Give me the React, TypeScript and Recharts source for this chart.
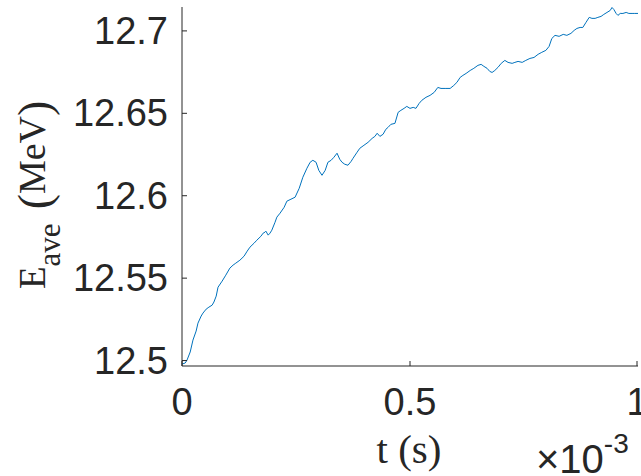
import React from "react";
import { LineChart, Line, XAxis, YAxis } from "recharts";

// time in units of 1e-3 s
const timeValues = [0, 0.007, 0.011, 0.018, 0.024, 0.031, 0.035, 0.042, 0.046, 0.053,
  0.059, 0.066, 0.070, 0.075, 0.079, 0.088, 0.096, 0.105, 0.112, 0.118,
  0.127, 0.136, 0.143, 0.149, 0.158, 0.164, 0.173, 0.178, 0.182, 0.184,
  0.189, 0.193, 0.197, 0.204, 0.208, 0.215, 0.224, 0.230, 0.239, 0.248,
  0.257, 0.265, 0.274, 0.281, 0.287, 0.294, 0.300, 0.307, 0.314, 0.320,
  0.327, 0.333, 0.340, 0.346, 0.351, 0.357, 0.364, 0.371, 0.375, 0.384,
  0.390, 0.399, 0.408, 0.417, 0.423, 0.428, 0.434, 0.441, 0.447, 0.452,
  0.458, 0.467, 0.474, 0.480, 0.487, 0.493, 0.500, 0.507, 0.513, 0.520,
  0.526, 0.535, 0.544, 0.553, 0.561, 0.568, 0.577, 0.588, 0.596, 0.603,
  0.610, 0.616, 0.623, 0.632, 0.640, 0.649, 0.656, 0.662, 0.669, 0.675,
  0.680, 0.686, 0.693, 0.700, 0.708, 0.715, 0.724, 0.730, 0.737, 0.746,
  0.754, 0.763, 0.772, 0.781, 0.789, 0.798, 0.805, 0.811, 0.818, 0.827,
  0.836, 0.844, 0.853, 0.860, 0.866, 0.873, 0.879, 0.886, 0.893, 0.899,
  0.906, 0.912, 0.919, 0.925, 0.932, 0.939, 0.943, 0.947, 0.952, 0.956,
  0.961, 0.967, 0.974, 0.980, 0.987, 0.993, 1.000];

const energyValues = [12.4979, 12.4985, 12.5003, 12.5052, 12.5124, 12.5179, 12.5227, 12.5270, 12.5288, 12.5312,
  12.5324, 12.5336, 12.5355, 12.5391, 12.5445, 12.5482, 12.5518, 12.5561, 12.5579, 12.5591,
  12.5609, 12.5633, 12.5664, 12.5688, 12.5712, 12.5730, 12.5754, 12.5773, 12.5779, 12.5785,
  12.5761, 12.5773, 12.5791, 12.5839, 12.5870, 12.5894, 12.5930, 12.5967, 12.5979, 12.5991,
  12.6045, 12.6112, 12.6167, 12.6203, 12.6215, 12.6203, 12.6154, 12.6124, 12.6154, 12.6203,
  12.6215, 12.6233, 12.6258, 12.6221, 12.6203, 12.6191, 12.6185, 12.6209, 12.6227, 12.6264,
  12.6288, 12.6306, 12.6324, 12.6348, 12.6360, 12.6379, 12.6360, 12.6373, 12.6403, 12.6415,
  12.6433, 12.6439, 12.6506, 12.6518, 12.6530, 12.6542, 12.6530, 12.6536, 12.6530, 12.6560,
  12.6579, 12.6597, 12.6609, 12.6627, 12.6657, 12.6651, 12.6651, 12.6651, 12.6669, 12.6688,
  12.6718, 12.6730, 12.6742, 12.6760, 12.6773, 12.6791, 12.6797, 12.6785, 12.6773, 12.6754,
  12.6748, 12.6760, 12.6779, 12.6803, 12.6821, 12.6809, 12.6803, 12.6809, 12.6815, 12.6809,
  12.6821, 12.6833, 12.6839, 12.6858, 12.6870, 12.6882, 12.6906, 12.6954, 12.6973, 12.6967,
  12.6979, 12.6973, 12.6985, 12.7003, 12.7015, 12.7021, 12.7021, 12.7052, 12.7082, 12.7076,
  12.7076, 12.7082, 12.7088, 12.7100, 12.7112, 12.7124, 12.7142, 12.7130, 12.7106, 12.7094,
  12.7106, 12.7106, 12.7112, 12.7106, 12.7106, 12.7106, 12.7106];

const xTicks = [0, 0.5, 1];
const yTicks = [12.5, 12.55, 12.6, 12.65, 12.7];
const xDomain = [0, 1];
const yDomain = [12.4967, 12.7145];

const data = timeValues.map((t, i) => ({ t, e: energyValues[i] }));

const AXIS = "#262626";
const LINE = "#0072BD";
const SANS = "'Liberation Sans', Arial, sans-serif";
const SERIF = "'Liberation Serif', 'DejaVu Serif', serif";
const TL = 5;

const fmtX = (v: number) => (v === 0 ? "0" : v === 1 ? "1" : String(v));
const fmtY = (v: number) => String(Number(v.toFixed(2)));

const BottomTick = (props: any) => {
  const { x, y, payload } = props;
  return (
    <g>
      <line x1={x} y1={y} x2={x} y2={y - TL} stroke={AXIS} strokeWidth={1} />
      <text x={x} y={y + 49} textAnchor="middle" fontFamily={SANS} fontSize={38} fill={AXIS}>
        {fmtX(payload.value)}
      </text>
    </g>
  );
};

const TopTick = (props: any) => {
  const { x, y } = props;
  return <line x1={x} y1={y} x2={x} y2={y + TL} stroke={AXIS} strokeWidth={1} />;
};

const LeftTick = (props: any) => {
  const { x, y, payload } = props;
  return (
    <g>
      <line x1={x} y1={y} x2={x + TL} y2={y} stroke={AXIS} strokeWidth={1} />
      <text x={x - 14} y={y + 13} textAnchor="end" fontFamily={SANS} fontSize={38} fill={AXIS}>
        {fmtY(payload.value)}
      </text>
    </g>
  );
};

const RightTick = (props: any) => {
  const { x, y } = props;
  return <line x1={x} y1={y} x2={x - TL} y2={y} stroke={AXIS} strokeWidth={1} />;
};

const YLabel = () => (
  <text
    transform="translate(45,289) rotate(-90)"
    textAnchor="start"
    fontFamily={SERIF}
    fontSize={37}
    fill={AXIS}
  >
    <tspan>E</tspan>
    <tspan fontSize={31} dy={15}>ave</tspan>
    <tspan fontSize={46} dy={-10} dx={14}>(</tspan>
    <tspan fontSize={38} dy={-5}>MeV</tspan>
    <tspan fontSize={46} dy={5}>)</tspan>
  </text>
);

const XLabel = () => (
  <g>
    <text x={409} y={463} textAnchor="middle" fontFamily={SERIF} fontSize={41} fill={AXIS}>
      t (s)
    </text>
    <text x={536} y={473} fontFamily={SANS} fontSize={40} fill={AXIS}>
      ×10
      <tspan fontSize={28} dy={-20}>-3</tspan>
    </text>
  </g>
);

export default function App() {
  return (
    <div style={{ position: "absolute", left: 0, top: 0, width: 641, height: 476, background: "#fff" }}>
      <LineChart
        width={641}
        height={476}
        data={data}
        margin={{ top: 7, right: 3, bottom: 0, left: 0 }}
        style={{ background: "#fff" }}
      >
        <XAxis
          dataKey="t"
          type="number"
          domain={xDomain}
          ticks={xTicks}
          allowDataOverflow
          height={110}
          tickSize={0}
          tickMargin={0}
          tick={BottomTick}
          axisLine={{ stroke: AXIS, strokeWidth: 1 }}
          label={{ content: XLabel }}
        />
        <XAxis
          xAxisId="top"
          orientation="top"
          dataKey="t"
          type="number"
          domain={xDomain}
          ticks={xTicks}
          allowDataOverflow
          height={0}
          tickSize={0}
          tickMargin={0}
          tick={TopTick}
          axisLine={{ stroke: AXIS, strokeWidth: 1 }}
        />
        <YAxis
          type="number"
          domain={yDomain}
          ticks={yTicks}
          allowDataOverflow
          width={182}
          tickSize={0}
          tickMargin={0}
          tick={LeftTick}
          axisLine={{ stroke: AXIS, strokeWidth: 1 }}
          label={{ content: YLabel }}
        />
        <YAxis
          yAxisId="right"
          orientation="right"
          type="number"
          domain={yDomain}
          ticks={yTicks}
          allowDataOverflow
          width={0}
          tickSize={0}
          tickMargin={0}
          tick={RightTick}
          axisLine={{ stroke: AXIS, strokeWidth: 1 }}
        />
        <Line
          type="linear"
          dataKey="e"
          stroke={LINE}
          strokeWidth={1}
          dot={false}
          isAnimationActive={false}
        />
      </LineChart>
    </div>
  );
}
